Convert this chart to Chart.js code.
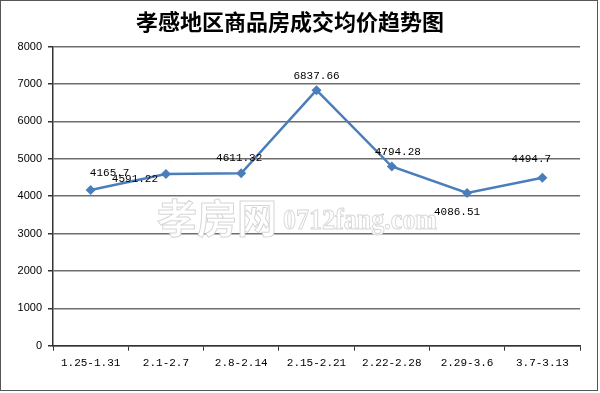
<!DOCTYPE html>
<html>
<head>
<meta charset="utf-8">
<script src="https://cdn.jsdelivr.net/npm/chart.js@4/dist/chart.umd.min.js"></script>
<style>
  html, body { margin: 0; padding: 0; background: #fff; }
  #wrap { position: relative; width: 600px; height: 393px; box-sizing: border-box; }
  #rand { position: absolute; left: 0; top: 0; width: 598px; height: 391px; border: 1px solid #555; box-sizing: border-box; pointer-events: none; }
</style>
</head>
<body>
<div id="wrap">
  <canvas id="grafiek" width="600" height="393"></canvas>
  <div id="rand"></div>
</div>
<script>
// weken (categorieen) en gemiddelde prijs
const weken = ['1.25-1.31', '2.1-2.7', '2.8-2.14', '2.15-2.21', '2.22-2.28', '2.29-3.6', '3.7-3.13'];
const prijzen = [4165.7, 4591.22, 4611.32, 6837.66, 4794.28, 4086.51, 4494.7];
const yTicks = [0, 1000, 2000, 3000, 4000, 5000, 6000, 7000, 8000];

// verschuiving van de labels t.o.v. het punt (px)
const labelOffset = [[19, -17], [-31, 5], [-2, -15], [0, -14], [6, -14], [-10, 19], [-11, -19]];

const watermerk = {
  id: 'watermerk',
  beforeDatasetsDraw(chart) {
    const c = chart.ctx;
    c.save();
    c.lineWidth = 1;
    c.strokeStyle = '#d6d6d6';
    c.fillStyle = '#ffffff';
    c.textBaseline = 'alphabetic';
    c.font = 'bold 40px "Noto Sans CJK SC"';
    c.fillText('孝房网', 157, 233, 124);
    c.strokeText('孝房网', 157, 233, 124);
    c.font = 'bold 30px "Liberation Serif"';
    c.fillText('0712fang.com', 283, 229, 154);
    c.strokeText('0712fang.com', 283, 229, 154);
    c.restore();
  }
};

const puntLabels = {
  id: 'puntLabels',
  afterDatasetsDraw(chart) {
    const c = chart.ctx;
    const meta = chart.getDatasetMeta(0);
    c.save();
    c.font = '11px "Liberation Mono"';
    c.fillStyle = '#000';
    c.textAlign = 'center';
    c.textBaseline = 'middle';
    meta.data.forEach(function(p, i) {
      const o = labelOffset[i];
      c.fillText(String(prijzen[i]), p.x + o[0], p.y + o[1]);
    });
    c.restore();
  }
};

new Chart(document.getElementById('grafiek').getContext('2d'), {
  type: 'line',
  data: {
    labels: weken,
    datasets: [{
      data: prijzen,
      borderColor: '#4a7ebb',
      backgroundColor: '#4a7ebb',
      borderWidth: 2.5,
      pointStyle: 'rectRot',
      pointRadius: 5,
      pointBorderWidth: 0,
      tension: 0
    }]
  },
  options: {
    responsive: false,
    animation: false,
    layout: { padding: { left: 0, right: 20, top: 0, bottom: 0 } },
    plugins: {
      legend: { display: false },
      tooltip: { enabled: false },
      title: {
        display: true,
        text: '孝感地区商品房成交均价趋势图',
        color: '#000',
        font: { family: '"Noto Sans CJK SC"', size: 22, weight: 'bold', lineHeight: 1.2 },
        padding: { top: 8, bottom: 12.3 }
      }
    },
    scales: {
      x: {
        offset: true,
        afterFit(s) { s.height = 47.3; },
        grid: { offset: true, drawOnChartArea: false, tickLength: 5, color: '#333', lineWidth: 1 },
        border: { color: '#333', width: 1.5 },
        ticks: { color: '#000', font: { family: '"Liberation Mono"', size: 11 }, padding: 6, maxRotation: 0, autoSkip: false }
      },
      y: {
        min: 0,
        max: 8000,
        afterFit(s) { s.width = 53; },
        afterBuildTicks(s) { s.ticks = yTicks.map(v => ({ value: v })); },
        grid: { color: '#6e6e6e', lineWidth: 1.5, tickLength: 5, tickColor: '#333' },
        border: { color: '#333', width: 1.5 },
        ticks: { color: '#000', font: { family: '"Liberation Sans"', size: 11 }, padding: 6, callback: v => String(v) }
      }
    }
  },
  plugins: [watermerk, puntLabels]
});
</script>
</body>
</html>
